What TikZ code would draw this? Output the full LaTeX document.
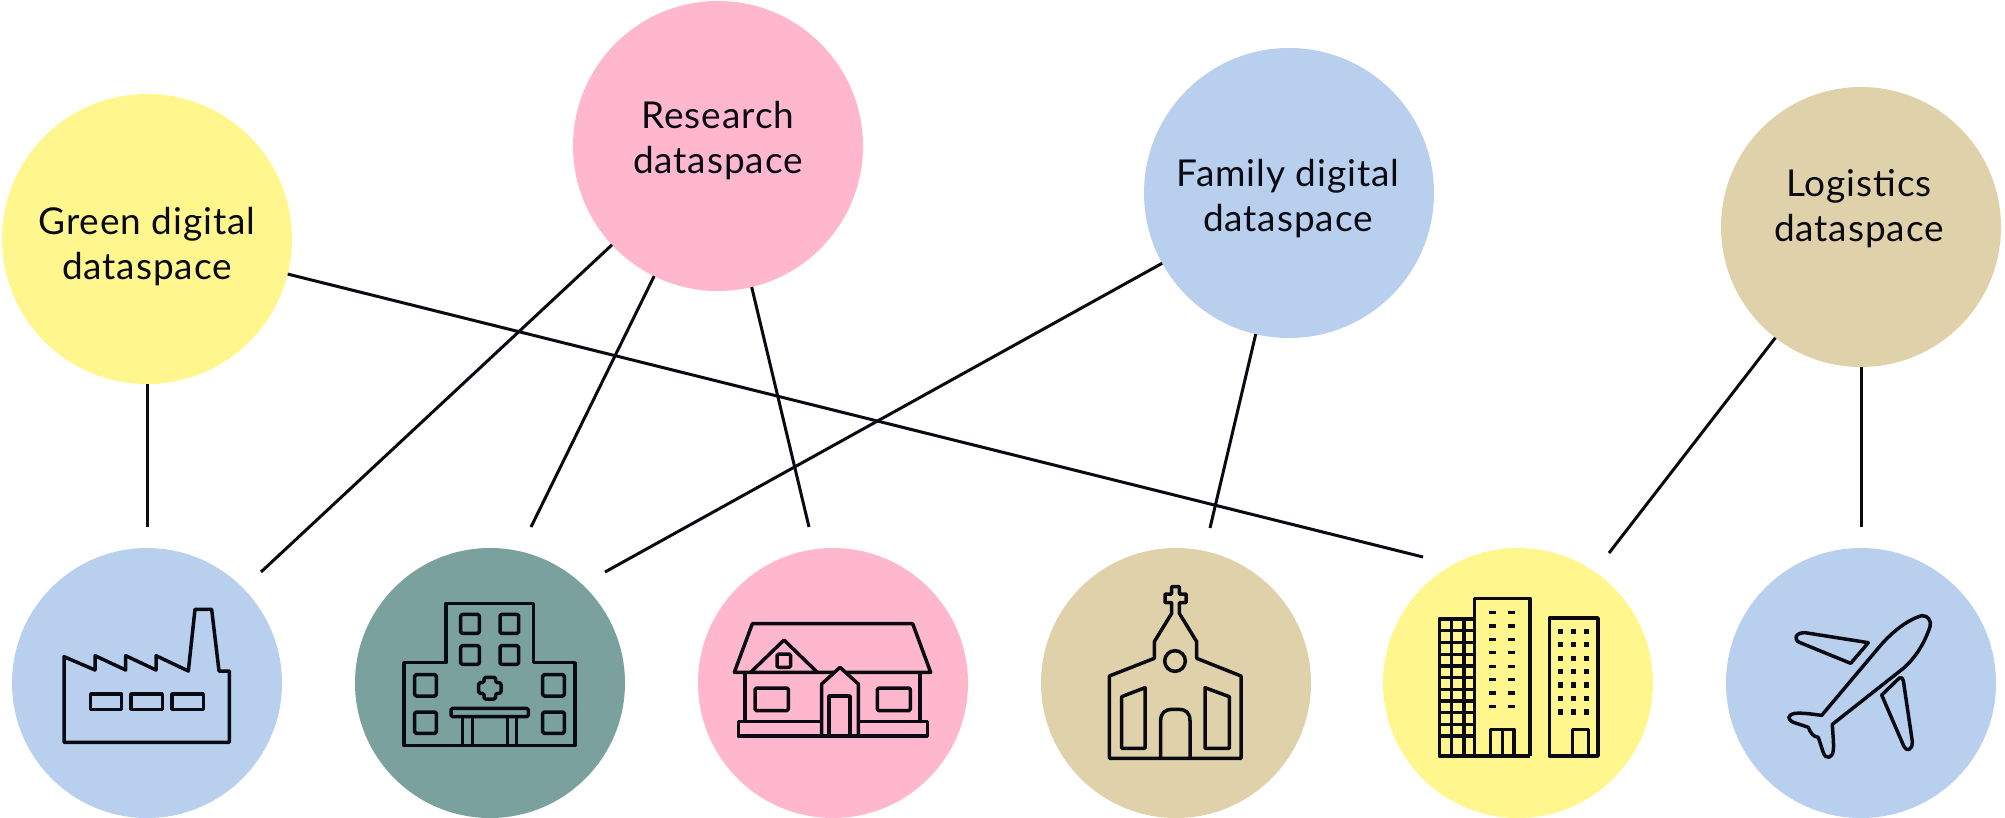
\documentclass[tikz,border=0pt]{standalone}
\usepackage{fontspec}
\setmainfont{Lato}
\definecolor{cblue}{HTML}{B9CFEE}
\definecolor{cteal}{HTML}{7AA19D}
\definecolor{cpink}{HTML}{FFB7CD}
\definecolor{ctan}{HTML}{DFD2AB}
\definecolor{cyel}{HTML}{FFF68D}
\definecolor{ink}{HTML}{0A0A12}
\tikzset{
  x=1pt,y=-1pt,
  disc/.style={circle,inner sep=0pt,outer sep=0pt,minimum size=#1},
  topdisc/.style={disc=290pt},
  botdisc/.style={disc=270pt},
  caption/.style={align=center,inner sep=0pt,text=ink,font=\fontsize{37}{45}\selectfont\addfontfeatures{LetterSpace=2.5}},
  link/.style={draw=ink,line width=3pt},
  icon/.style={draw=ink,line width=3.5pt,line join=round},
  iconframe/.style={scale=1/3},
}
\begin{document}
\begin{tikzpicture}
\useasboundingbox (0,0) rectangle (2005,817);
\fill[white] (0,0) rectangle (2005,817);
% top circles
\node[topdisc,fill=cyel] (green) at (147,239) {};
\node[topdisc,fill=cpink] (research) at (718,146) {};
\node[topdisc,fill=cblue] (family) at (1289,193) {};
\node[disc=280pt,fill=ctan] (logistics) at (1861,227) {};
\node[caption] (greentext) at (147,247) {Green digital\\dataspace};
\node[caption] (researchtext) at (718,141) {Research\\dataspace};
\node[caption] (familytext) at (1288,199) {Family digital\\dataspace};
\node[caption] (logisticstext) at (1859,209) {Logistics\\dataspace};
% bottom circles
\node[botdisc,fill=cblue] (factory) at (147,683) {};
\node[botdisc,fill=cteal] (hospital) at (490,683) {};
\node[botdisc,fill=cpink] (house) at (833,683) {};
\node[botdisc,fill=ctan] (church) at (1176,683) {};
\node[botdisc,fill=cyel] (towers) at (1518,683) {};
\node[botdisc,fill=cblue] (plane) at (1861,683) {};
% connector free ends
\coordinate (e1) at (147,527);
\coordinate (e2) at (261,572);
\coordinate (e3) at (531,527);
\coordinate (e4) at (809,527);
\coordinate (e5) at (605,572);
\coordinate (e6) at (1210,528);
\coordinate (e7) at (1423,557);
\coordinate (e8) at (1609,553);
\coordinate (e9) at (1861,527);
\draw[link] (green) -- (e1);
\draw[link] (research) -- (e2);
\draw[link] (research) -- (e3);
\draw[link] (research) -- (e4);
\draw[link] (family) -- (e5);
\draw[link] (family) -- (e6);
\draw[link] (green) -- (e7);
\draw[link] (logistics) -- (e8);
\draw[link] (logistics) -- (e9);
% factory
\begin{scope}[shift={(40,590)},iconframe]
\draw[icon] (72,200)--(165,240)--(165,197)--(257,240)--(257,197)--(348,240)--(348,197)--(445,243)--(465,58)--(515,58)--(537,243)--(568,243)--(568,457)--(72,457)--cycle;
\draw[icon] (152,312) rectangle (245,358);
\draw[icon] (273,312) rectangle (367,358);
\draw[icon] (396,312) rectangle (490,358);
\end{scope}
% hospital
\begin{scope}[shift={(390,590)},iconframe]
\draw[icon] (42,218)--(168,218)--(168,40)--(430,40)--(430,218)--(555,218)--(555,467)--(42,467)--cycle;
\begin{scope}[rounded corners=1.5pt]
\draw[icon] (212,73) rectangle (268,130);
\draw[icon] (330,73) rectangle (386,130);
\draw[icon] (212,167) rectangle (268,223);
\draw[icon] (330,167) rectangle (386,223);
\draw[icon] (74,254) rectangle (139,318);
\draw[icon] (458,254) rectangle (523,318);
\draw[icon] (74,366) rectangle (139,430);
\draw[icon] (458,366) rectangle (523,430);
\draw[icon] (183,355) rectangle (415,380);
\draw[icon] (282,262)--(317,262)--(317,278)--(333,278)--(333,310)--(317,310)--(317,327)--(282,327)--(282,310)--(266,310)--(266,278)--(282,278)--cycle;
\end{scope}
\draw[icon] (218,380)--(218,467);
\draw[icon] (248,380)--(248,467);
\draw[icon] (352,380)--(352,467);
\draw[icon] (380,380)--(380,467);
\end{scope}
% house
\begin{scope}[shift={(720,610)},iconframe]
\draw[icon] (97,41)--(578,41)--(632,187)--(43,187)--cycle;
\draw[icon] (92,187)--(192,90)--(292,187);
\draw[icon,rounded corners=1.5pt] (171,132) rectangle (212,172);
\draw[icon] (75,187)--(75,335);
\draw[icon] (600,187)--(600,335);
\draw[icon,fill=cpink] (305,378)--(305,222)--(360,172)--(415,222)--(415,378)--cycle;
\draw[icon] (327,378)--(327,258)--(390,258)--(390,378);
\draw[icon,rounded corners=1.5pt] (105,234) rectangle (205,302);
\draw[icon,rounded corners=1.5pt] (472,234) rectangle (571,302);
\draw[icon] (305,335)--(55,335)--(55,378)--(622,378)--(622,335)--(415,335);
\end{scope}
% church
\begin{scope}[shift={(1090,580)},iconframe]
\draw[icon] (58,535)--(58,288)--(193,235)--(193,185)--(245,100)--(245,68)--(225,68)--(225,42)--(245,42)--(245,20)--(268,20)--(268,42)--(288,42)--(288,68)--(268,68)--(268,100)--(320,185)--(320,235)--(453,288)--(453,535)--cycle;
\draw[icon] (255,243) circle[radius=31];
\draw[icon] (95,350)--(165,323)--(165,505)--(95,505)--cycle;
\draw[icon] (345,323)--(418,350)--(418,505)--(345,505)--cycle;
\draw[icon] (212,535)--(212,422) .. controls (212,400) and (225,388) .. (245,388)--(268,388) .. controls (288,388) and (300,400) .. (300,422)--(300,535);
\end{scope}
% towers
\begin{scope}[shift={(1430,590)},iconframe]
\draw[icon] (133,498)--(133,25)--(300,25)--(300,498);
\draw[icon] (28,87) rectangle (133,498);
\foreach \px in {65,102} \draw[icon] (\px,87)--(\px,498);
\foreach \py in {122,157,193,228,263,298,333,368,403,438} \draw[icon] (28,\py)--(133,\py);
\draw[icon] (133,498)--(300,498);
\draw[icon] (358,84) rectangle (504,498);
\draw[icon] (182,498)--(182,418)--(252,418)--(252,498);
\draw[icon] (217,418)--(217,498);
\draw[icon] (428,498)--(428,418)--(475,418)--(475,498);
\foreach \py in {68,108,148,188,229,268,309,350} {
  \draw[icon,line join=miter] (177,\py)--(198,\py);
  \draw[icon,line join=miter] (233,\py)--(255,\py);
}
\foreach \py in {124,164,205,245,285,325,366}
  \foreach \px in {392,430,470}
    \fill[ink] (\px-8,\py-8) rectangle (\px+8,\py+8);
\end{scope}
% plane
\begin{scope}[shift={(1780,600)},iconframe]
\draw[icon] (125,346) -- (290,150) .. controls (330,100) and (380,60) .. (425,47) .. controls (445,45) and (455,65) .. (450,80) .. controls (435,125) and (410,170) .. (370,205) -- (157,373) .. controls (158,400) and (162,430) .. (160,450) .. controls (158,475) and (138,480) .. (130,458) -- (115,412) .. controls (100,410) and (92,400) .. (85,382) -- (40,367) .. controls (22,358) and (20,345) .. (45,340) .. controls (70,338) and (100,343) .. (125,346) -- cycle;
\draw[icon] (265,128) -- (212,190) -- (58,127) .. controls (40,118) and (45,98) .. (75,98) -- cycle;
\draw[icon] (305,285) -- (358,234) .. controls (364,230) and (369,235) .. (370,242) -- (397,425) .. controls (397,452) and (380,455) .. (372,440) -- cycle;
\end{scope}
\end{tikzpicture}
\end{document}
